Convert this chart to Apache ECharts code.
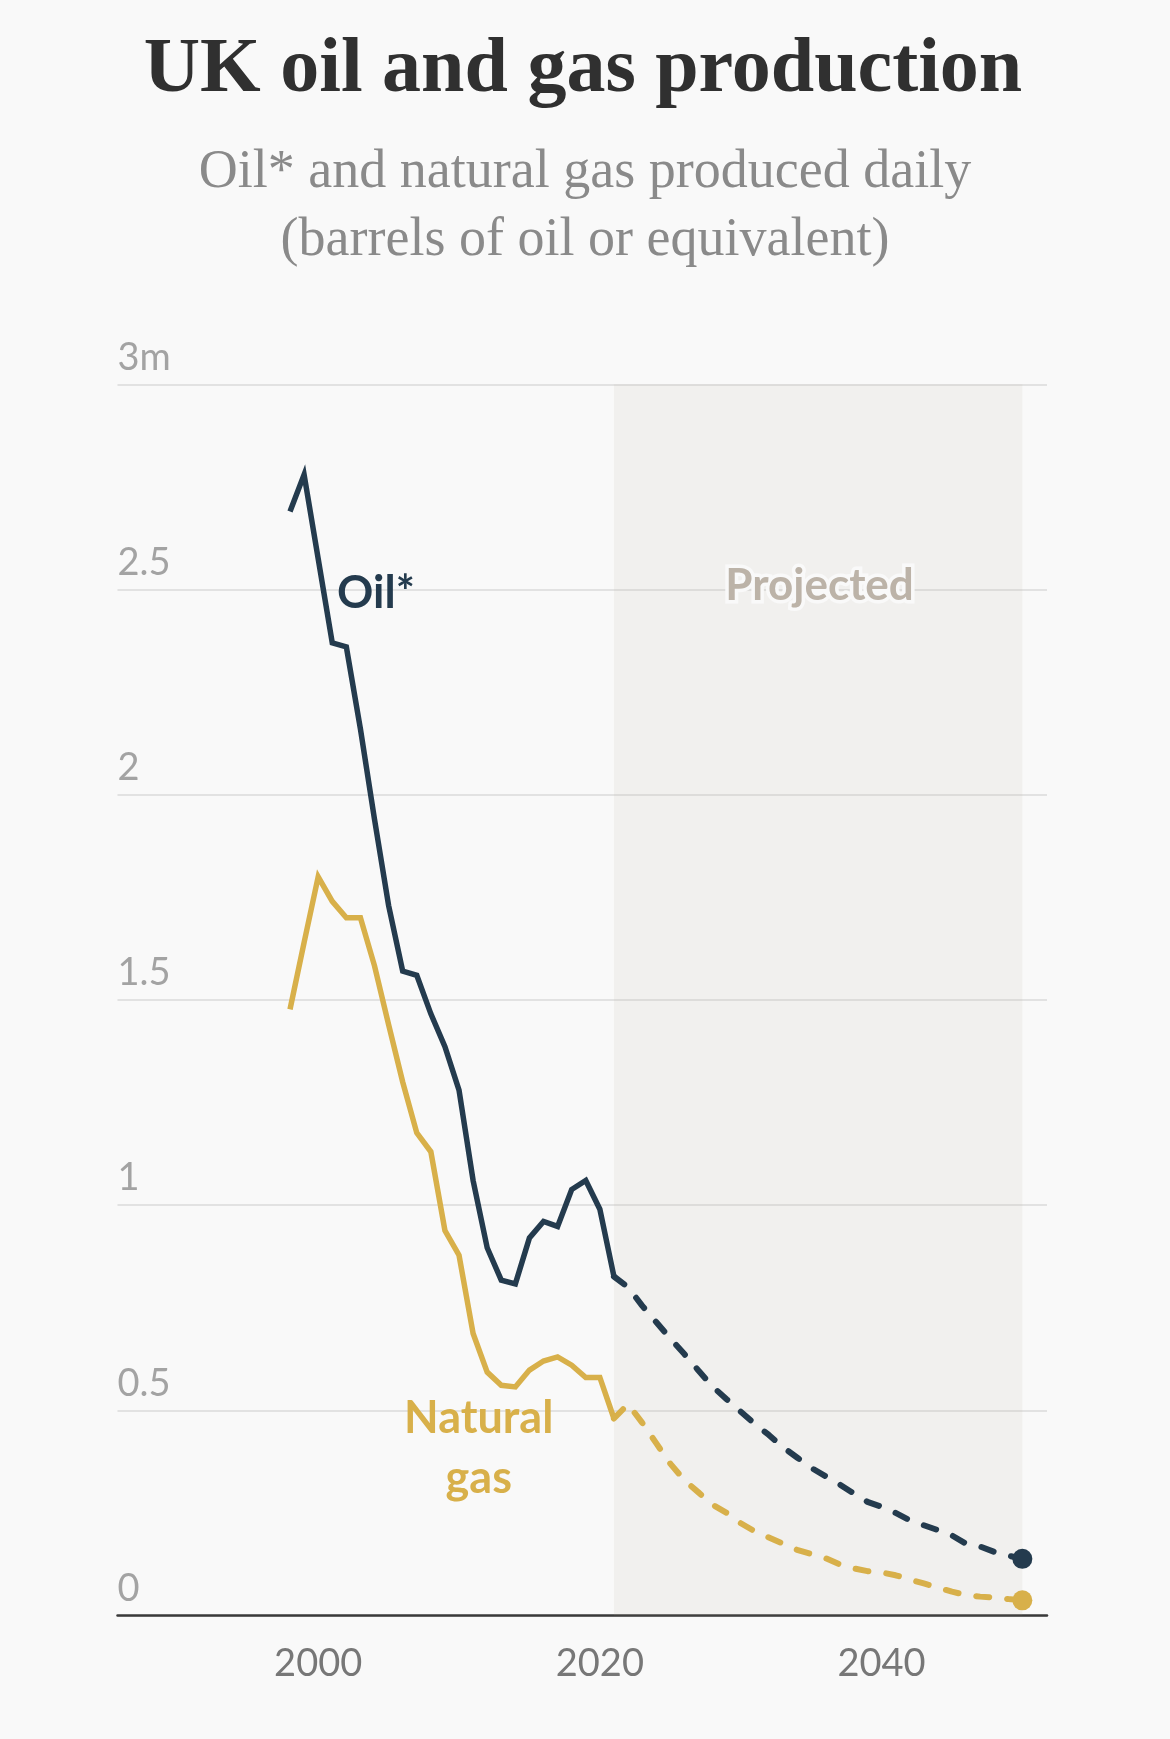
<!DOCTYPE html>
<html>
<head>
<meta charset="utf-8">
<script src="https://cdn.jsdelivr.net/npm/echarts@6/dist/echarts.min.js"></script>
<style>
  html, body { margin: 0; padding: 0; background: #f9f9f9; }
  #chart { width: 1170px; height: 1739px; }
</style>
</head>
<body>
<div id="chart"></div>
<script>
// ---- Data (million barrels of oil or equivalent per day) ----
const actualYears = [1998,1999,2000,2001,2002,2003,2004,2005,2006,2007,2008,2009,2010,2011,2012,2013,2014,2015,2016,2017,2018,2019,2020,2021];
const oilActual = [2.69,2.78,2.575,2.37,2.36,2.16,1.94,1.73,1.57,1.56,1.466,1.386,1.28,1.06,0.896,0.817,0.808,0.92,0.96,0.948,1.038,1.06,0.99,0.826];
const gasActual = [1.477,1.64,1.80,1.74,1.70,1.70,1.583,1.44,1.30,1.176,1.13,0.938,0.878,0.687,0.593,0.561,0.557,0.598,0.62,0.63,0.61,0.58,0.58,0.48];

const projYears = [2021,2022,2023,2024,2025,2026,2027,2028,2029,2030,2031,2032,2033,2034,2035,2036,2037,2038,2039,2040,2041,2042,2043,2044,2045,2046,2047,2048,2049,2050];
const oilProjected = [0.826,0.80,0.755,0.715,0.675,0.637,0.597,0.558,0.527,0.497,0.467,0.44,0.41,0.385,0.36,0.34,0.32,0.298,0.277,0.265,0.25,0.232,0.22,0.208,0.195,0.175,0.168,0.155,0.146,0.138];
const gasProjected = [0.48,0.515,0.47,0.42,0.37,0.33,0.30,0.27,0.25,0.225,0.205,0.19,0.175,0.16,0.15,0.14,0.125,0.115,0.108,0.105,0.098,0.088,0.078,0.068,0.058,0.05,0.046,0.044,0.04,0.037];

const xTickLabels = [2000, 2020, 2040];
const yTickValues = [0, 0.5, 1, 1.5, 2, 2.5, 3];
const projectedSpan = [2021, 2050];

const titleText = 'UK oil and gas production';
const subtitleText = 'Oil* and natural gas produced daily\n(barrels of oil or equivalent)';

// annotation anchors (data coordinates)
const oilLabelAt = [2004.1, 2.49];
const gasLabelAt = [2011.4, 0.407];
const projLabelAt = [2035.6, 2.51];

const OIL = '#243b4e';
const GAS = '#d8b04a';
const SANS = 'Lato, "Noto Sans", sans-serif';
const SERIF = '"Liberation Serif", "DejaVu Serif", serif';

function pairs(xs, ys) { return xs.map((x, i) => [x, ys[i]]); }
function withEndDot(xs, ys) {
  return xs.map((x, i) => i === xs.length - 1
    ? { value: [x, ys[i]], symbol: 'circle', symbolSize: 20 }
    : [x, ys[i]]);
}

const chart = echarts.init(document.getElementById('chart'), null, { renderer: 'canvas' });

chart.setOption({
  backgroundColor: '#f9f9f9',
  animation: false,
  title: [
    {
      text: titleText,
      left: 578, top: 27, textAlign: 'center',
      textStyle: { fontFamily: SERIF, fontWeight: 'bold', fontSize: 78, lineHeight: 78, color: '#303030' }
    },
    {
      text: subtitleText,
      left: 580, top: 134, textAlign: 'center',
      textStyle: { fontFamily: SERIF, fontWeight: 'normal', fontSize: 54, lineHeight: 68, color: '#8a8a8a' }
    }
  ],
  grid: { left: 117.5, right: 123, top: 384.3, bottom: 123.5, containLabel: false },
  xAxis: {
    type: 'value',
    min: 1985.75, max: 2051.75,
    axisLine: { show: true, onZero: false, lineStyle: { color: '#3a3a3a', width: 2.5 } },
    axisTick: { show: false },
    splitLine: { show: false },
    axisLabel: {
      customValues: xTickLabels,
      margin: 29,
      fontFamily: SANS, fontSize: 38, lineHeight: 38, color: '#777777',
      formatter: v => String(v)
    }
  },
  yAxis: {
    type: 'value',
    min: 0, max: 3, interval: 0.5,
    axisLine: { show: false },
    axisTick: { show: false },
    splitLine: { show: true, lineStyle: { color: '#e2e2e2', width: 2 } },
    axisLabel: {
      inside: true, margin: 0, align: 'left', verticalAlign: 'bottom',
      padding: [0, 0, 8, 0],
      fontFamily: SANS, fontSize: 38, lineHeight: 38, color: '#a3a3a3',
      formatter: v => (v === 3 ? '3m' : String(v))
    }
  },
  series: [
    {
      name: 'Oil projected',
      type: 'line',
      data: withEndDot(projYears, oilProjected),
      symbol: 'none', showSymbol: true,
      lineStyle: { color: OIL, width: 6, type: [13, 18], cap: 'round' },
      itemStyle: { color: OIL },
      z: 3,
      markArea: {
        silent: true,
        itemStyle: { color: 'rgba(179,169,149,0.1)' },
        data: [[{ xAxis: projectedSpan[0] }, { xAxis: projectedSpan[1] }]]
      },
      markPoint: {
        silent: true,
        symbol: 'circle', symbolSize: 0,
        data: [{
          coord: projLabelAt,
          label: {
            show: true, position: 'inside', formatter: 'Projected',
            fontFamily: SANS, fontWeight: 'bold', fontSize: 44, color: '#bcb3a8',
            textBorderColor: '#f9f9f9', textBorderWidth: 7
          }
        }]
      }
    },
    {
      name: 'Gas projected',
      type: 'line',
      data: withEndDot(projYears, gasProjected),
      symbol: 'none', showSymbol: true,
      lineStyle: { color: GAS, width: 6, type: [13, 18], cap: 'round' },
      itemStyle: { color: GAS },
      z: 3
    },
    {
      name: 'Oil*',
      type: 'line',
      data: pairs(actualYears, oilActual),
      symbol: 'none',
      lineStyle: { color: OIL, width: 5.5, join: 'miter' },
      z: 4,
      markPoint: {
        silent: true, symbol: 'circle', symbolSize: 0,
        data: [{
          coord: oilLabelAt,
          label: {
            show: true, position: 'inside', formatter: 'Oil*',
            fontFamily: SANS, fontWeight: 'bold', fontSize: 45, color: OIL
          }
        }]
      }
    },
    {
      name: 'Natural gas',
      type: 'line',
      data: pairs(actualYears, gasActual),
      symbol: 'none',
      lineStyle: { color: GAS, width: 5.5, join: 'miter' },
      z: 4,
      markPoint: {
        silent: true, symbol: 'circle', symbolSize: 0,
        data: [{
          coord: gasLabelAt,
          label: {
            show: true, position: 'inside', formatter: 'Natural\ngas',
            fontFamily: SANS, fontWeight: 'bold', fontSize: 45, lineHeight: 60,
            align: 'center', color: GAS
          }
        }]
      }
    }
  ]
});
</script>
</body>
</html>
